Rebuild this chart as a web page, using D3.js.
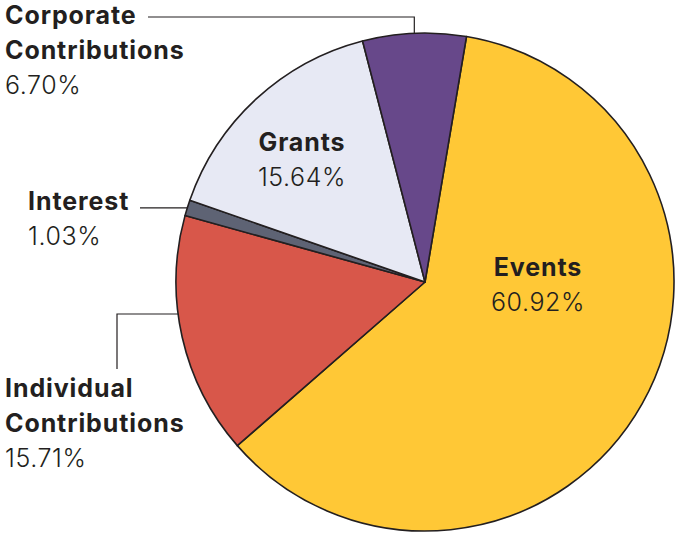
<!DOCTYPE html>
<html><head><meta charset="utf-8">
<script src="https://cdn.jsdelivr.net/npm/d3@7"></script>
<style>body{margin:0;background:#fff}svg{display:block}</style>
</head><body>
<svg id="c" width="676" height="533"></svg>
<script>
const categories = ["Events", "Individual Contributions", "Interest", "Grants", "Corporate Contributions"];
const values = [60.92, 15.71, 1.03, 15.64, 6.70];
const colors = ["#FFC836", "#D8574A", "#5E6374", "#E7E9F4", "#67488A"];

const svg = d3.select("#c");
const cx = 425, cy = 282, R = 249;
const startA = 9.6 * Math.PI / 180;
const pie = d3.pie().sort(null).startAngle(startA).endAngle(startA + 2 * Math.PI);
const arcs = pie(values);
const arc = d3.arc().innerRadius(0).outerRadius(R);
const g = svg.append("g").attr("transform", `translate(${cx},${cy})`);
g.selectAll("path").data(arcs).join("path")
  .attr("d", arc).attr("fill", (d, i) => colors[i])
  .attr("stroke", "#231F20").attr("stroke-width", 1.6).attr("stroke-linejoin", "round");

const ink = "#231F20";
const font = "Inter, 'Open Sans', sans-serif";
function label(x, y, lines, pct, anchor) {
  const t = svg.append("g");
  lines.forEach((l, i) => {
    t.append("text").attr("x", x).attr("y", y + i * 35).attr("text-anchor", anchor)
      .attr("font-family", font).attr("font-weight", 700).attr("font-size", 25)
      .attr("letter-spacing", 0.9).attr("fill", ink).text(l);
  });
  t.append("text").attr("x", x).attr("y", y + lines.length * 35).attr("text-anchor", anchor)
    .attr("font-family", font).attr("font-weight", 300).attr("font-size", 25)
    .attr("letter-spacing", 0.6).attr("fill", ink).text(pct.toFixed(2) + "%");
}
label(538, 276, ["Events"], values[0], "middle");
label(302, 151, ["Grants"], values[3], "middle");
label(5, 24, ["Corporate", "Contributions"], values[4], "start");
label(28, 210, ["Interest"], values[2], "start");
label(5, 397, ["Individual", "Contributions"], values[1], "start");

// leader lines
function pt(i, frac) {
  const a = arcs[i].startAngle + (arcs[i].endAngle - arcs[i].startAngle) * frac;
  return [cx + R * Math.sin(a), cy - R * Math.cos(a)];
}
const line = d3.line();
const lc = "#231F20";
const pc = pt(4, 0.5);
svg.append("path").attr("d", line([[148, 17], [pc[0], 17], [pc[0], pc[1]]])).attr("fill", "none").attr("stroke", lc).attr("stroke-width", 1.2);
const pi = pt(2, 0.5);
svg.append("path").attr("d", line([[140, pi[1]], [pi[0], pi[1]]])).attr("fill", "none").attr("stroke", lc).attr("stroke-width", 1.2);
const yInd = 314;
const xInd = cx - Math.sqrt(R * R - (yInd - cy) * (yInd - cy));
svg.append("path").attr("d", line([[117, 369], [117, yInd], [xInd, yInd]])).attr("fill", "none").attr("stroke", lc).attr("stroke-width", 1.2);
</script>
</body></html>
